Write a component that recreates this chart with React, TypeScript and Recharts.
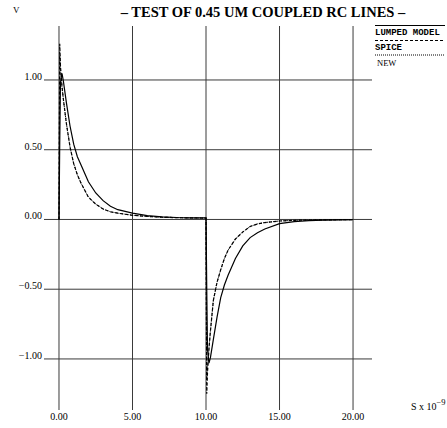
import { Line, LineChart, ReferenceLine, XAxis, YAxis } from "recharts";

// time in ns, values in V
const times = [
  0, 0.05, 0.1, 0.2, 0.3, 0.5, 0.75, 1, 1.25, 1.5, 2, 2.5, 3, 3.5, 4, 5, 6, 7, 8, 9, 10,
  10.05, 10.1, 10.2, 10.3, 10.5, 10.75, 11, 11.25, 11.5, 12, 12.5, 13, 13.5, 14, 15, 16, 17, 18, 19, 20,
];
const lumped = [
  0, 0.55, 0.98, 1.05, 0.99, 0.84, 0.67, 0.54, 0.45, 0.39, 0.27, 0.19, 0.135, 0.095, 0.07, 0.045, 0.028, 0.019, 0.014, 0.012, 0.011,
  -0.5, -0.93, -1.03, -0.99, -0.86, -0.7, -0.56, -0.47, -0.4, -0.28, -0.19, -0.13, -0.095, -0.068, -0.03, -0.016, -0.009, -0.005, -0.003, -0.002,
];
const spice = [
  0, 1.26, 1.1, 0.96, 0.86, 0.69, 0.52, 0.4, 0.32, 0.26, 0.16, 0.11, 0.075, 0.055, 0.045, 0.03, 0.022, 0.016, 0.013, 0.011, 0.01,
  -1.25, -1.1, -0.93, -0.8, -0.58, -0.45, -0.36, -0.28, -0.22, -0.14, -0.09, -0.05, -0.032, -0.022, -0.011, -0.006, -0.004, -0.003, -0.002, -0.001,
];
const newModel = [
  0, 1.18, 1.08, 0.95, 0.86, 0.69, 0.52, 0.4, 0.32, 0.26, 0.16, 0.11, 0.075, 0.055, 0.045, 0.03, 0.022, 0.016, 0.013, 0.011, 0.01,
  -1.15, -1.06, -0.92, -0.8, -0.58, -0.45, -0.36, -0.28, -0.22, -0.14, -0.09, -0.05, -0.032, -0.022, -0.011, -0.006, -0.004, -0.003, -0.002, -0.001,
];
const xTicks = [0, 5, 10, 15, 20];
const yTicks = [-1, -0.5, 0, 0.5, 1];

const rows = times.map((t, i) => ({ t, lumped: lumped[i], spice: spice[i], newModel: newModel[i] }));

const SERIF = "'Liberation Serif', 'DejaVu Serif', serif";
const MONO = "'Liberation Mono', 'DejaVu Sans Mono', monospace";
const GRID = "#3a3a3a";

const fmt = (v: number) => (v < 0 ? "\u2212" : "") + Math.abs(v).toFixed(2);

function YTick({ y, payload }: any) {
  return (
    <text x={42} y={y} textAnchor="end" fontSize={10} fontFamily={SERIF} fill="#000">
      {fmt(payload.value)}
    </text>
  );
}

function XTick({ x, payload }: any) {
  return (
    <text x={x} y={420} textAnchor="middle" fontSize={10} fontFamily={SERIF} fill="#000">
      {fmt(payload.value)}
    </text>
  );
}

export default function App() {
  return (
    <div style={{ position: "absolute", left: 0, top: 0, width: 447, height: 428, background: "#fff" }}>
      <LineChart width={447} height={428} data={rows} margin={{ top: 26, right: 75, left: 0, bottom: 0 }}>
        <XAxis
          dataKey="t"
          type="number"
          domain={[-1.02, 21.29]}
          ticks={xTicks}
          allowDataOverflow
          axisLine={false}
          tickLine={false}
          height={18}
          tick={<XTick />}
        />
        <YAxis
          type="number"
          domain={[-1.366, 1.387]}
          ticks={yTicks}
          allowDataOverflow
          axisLine={false}
          tickLine={false}
          width={44}
          tick={<YTick />}
        />
        {/* plain grid, only at the ticks, no frame */}
        {xTicks.map((v) => (
          <ReferenceLine key={"x" + v} x={v} stroke={GRID} strokeWidth={1} />
        ))}
        {yTicks.map((v) => (
          <ReferenceLine key={"y" + v} y={v} stroke={GRID} strokeWidth={1} />
        ))}
        <Line type="linear" dataKey="lumped" name="LUMPED MODEL" stroke="#000" strokeWidth={1.2} dot={false} isAnimationActive={false} />
        <Line type="linear" dataKey="spice" name="SPICE" stroke="#000" strokeWidth={1.2} strokeDasharray="3 2" dot={false} isAnimationActive={false} />
        <Line type="linear" dataKey="newModel" name="NEW" stroke="#000" strokeWidth={1} strokeDasharray="1 1" dot={false} isAnimationActive={false} />
      </LineChart>
      <svg width={447} height={428} style={{ position: "absolute", left: 0, top: 0, pointerEvents: "none" }}>
        <text x={13} y={13} fontSize={9} fontFamily={SERIF} fill="#000">V</text>
        <text x={263} y={17} textAnchor="middle" fontSize={14.5} fontWeight="bold" fontFamily={SERIF} fill="#000">
          – TEST OF 0.45 UM COUPLED RC LINES –
        </text>
        <g transform="translate(372,25)">
          <line x1={3} x2={73} y1={0.5} y2={0.5} stroke="#000" strokeWidth={1} />
          <text x={3} y={10} fontSize={9} fontWeight="bold" fontFamily={MONO} fill="#000">
            LUMPED MODEL
          </text>
          <line x1={3} x2={73} y1={15.5} y2={15.5} stroke="#000" strokeDasharray="3 2" />
          <text x={3} y={25} fontSize={9} fontWeight="bold" fontFamily={MONO} fill="#000">
            SPICE
          </text>
          <line x1={3} x2={73} y1={30} y2={30} stroke="#000" strokeDasharray="1 1" />
          <text x={5} y={40.5} fontSize={8.5} fontFamily={SERIF} fill="#000">
            NEW
          </text>
        </g>
        <text x={411} y={410} fontSize={10} fontFamily={SERIF} fill="#000">
          S x 10
          <tspan dy={-5} fontSize={8.5}>−9</tspan>
        </text>
      </svg>
    </div>
  );
}
